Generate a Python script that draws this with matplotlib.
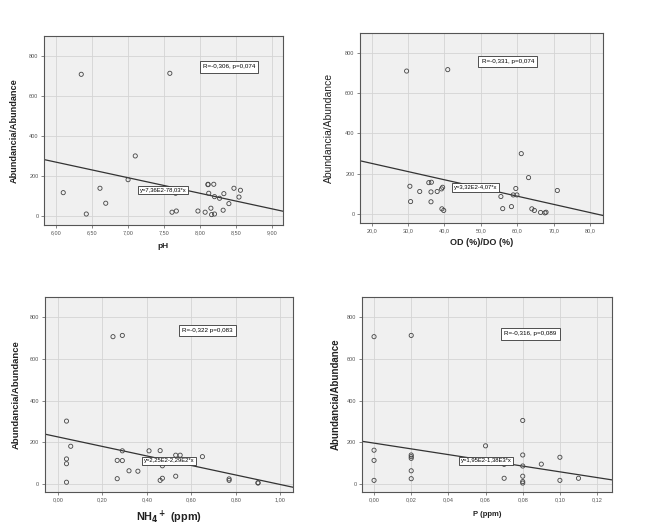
import matplotlib
matplotlib.use("Agg")
import matplotlib.pyplot as plt
import numpy as np

plt.rcParams['font.family'] = ['Liberation Sans', 'DejaVu Sans']
plt.rcParams['mathtext.default'] = 'bf'

# panel 1 - pH
ph_x = [6.10, 6.35, 6.42, 6.61, 6.69, 7.00, 7.10, 7.58, 7.66, 7.61, 7.67, 7.97, 8.07,
        8.11, 8.11, 8.12, 8.19, 8.15, 8.16, 8.20, 8.20, 8.27, 8.33, 8.32, 8.40, 8.47, 8.54, 8.56]
ph_y = [115, 708, 8, 137, 62, 180, 299, 713, 112, 17, 23, 23, 17,
        157, 155, 112, 157, 37, 5, 8, 95, 87, 110, 27, 60, 137, 93, 127]

# panel 2 - OD
od_x = [29.6, 40.9, 30.5, 30.7, 33.2, 35.7, 36.4, 36.3, 36.3, 38.0, 39.2, 39.5, 39.3, 39.8,
        55.5, 56.0, 58.4, 58.9, 59.6, 59.9, 61.1, 63.1, 64.0, 64.7, 66.4, 67.6, 67.9, 71.0]
od_y = [709, 716, 137, 61, 111, 155, 157, 109, 60, 111, 124, 132, 25, 17,
        86, 26, 36, 94, 126, 94, 299, 180, 25, 17, 7, 5, 8, 116]

# panel 3 - NH4
nh_x = [0.248, 0.29, 0.039, 0.058, 0.039, 0.039, 0.039, 0.29, 0.267, 0.29, 0.32, 0.36,
        0.267, 0.41, 0.46, 0.47, 0.46, 0.47, 0.53, 0.55, 0.53, 0.65, 0.77, 0.77, 0.90, 0.90, 0.47]
nh_y = [707, 713, 301, 180, 119, 96, 7, 158, 112, 111, 62, 60,
        24, 158, 159, 86, 16, 26, 137, 137, 36, 130, 23, 16, 5, 3, 112]

# panel 4 - P
p_x = [0.00, 0.02, 0.08, 0.00, 0.00, 0.00, 0.02, 0.02, 0.02, 0.02, 0.02, 0.06, 0.07, 0.07,
       0.08, 0.08, 0.08, 0.08, 0.08, 0.09, 0.10, 0.10, 0.11]
p_y = [707, 713, 304, 161, 112, 16, 138, 130, 122, 62, 24, 182, 93, 26,
       138, 85, 36, 10, 3, 94, 127, 16, 26]

# regression coefficients (intercept, slope) and stats text
fits = [(736, -78.03), (332, -4.07), (225, -229), (195, -1380)]
reg_text = ["y=7,36E2-78,03*x", "y=3,32E2-4,07*x", "y=2,25E2-2,29E2*x", "y=1,95E2-1,38E3*x"]
r_text = ["R=-0,306, p=0,074", "R=-0,331, p=0,074", "R=-0,322 p=0,083", "R=-0,316, p=0,089"]

xticks = [np.arange(6.0, 9.01, 0.5), np.arange(20, 80.1, 10), np.arange(0, 1.01, 0.2), np.arange(0, 0.121, 0.02)]
xfmt = ["{:.2f}", "{:.1f}", "{:.2f}", "{:.2f}"]
xlims = [(5.833, 9.15), (16.8, 83.5), (-0.058, 1.057), (-0.0065, 0.128)]
ylims = [(-47, 900), (-46, 896), (-40, 898), (-40, 898)]
xlabels = ["pH", "OD (%)/DO (%)", "NH$_4$$^+$ (ppm)", "P (ppm)"]
xlab_size = [6, 6.5, 7.8, 5.5]
ylab_size = [6.6, 7.5, 6.8, 7.0]
ylab_weight = ["bold", "normal", "bold", "bold"]
ylab_pos = [-0.105, -0.107, -0.097, -0.085]
xlab_pos = [-0.094, -0.079, -0.085, -0.096]
r_pos = [(8.40, 745), (57.4, 755), (0.672, 737), (0.0841, 720)]
reg_pos = [(7.49, 128), (48.5, 131), (0.50, 110), (0.0604, 110)]
boxes = [[0.0676, 0.5755, 0.367, 0.3566], [0.553, 0.579, 0.373, 0.358],
         [0.069, 0.0717, 0.381, 0.368], [0.556, 0.0717, 0.384, 0.368]]

xs = [ph_x, od_x, nh_x, p_x]
ys = [ph_y, od_y, nh_y, p_y]

fig = plt.figure(figsize=(6.51, 5.30), dpi=100)

for i in range(4):
    ax = fig.add_axes(boxes[i])
    ax.set_facecolor('#f0f0f0')
    ax.set_xlim(xlims[i])
    ax.set_ylim(ylims[i])
    ax.set_xticks(xticks[i])
    ax.set_xticklabels([xfmt[i].format(v).replace('.', ',') for v in xticks[i]])
    ax.set_yticks([0, 200, 400, 600, 800])
    ax.tick_params(labelsize=4, colors='#555555', length=2, width=0.5, pad=2)
    ax.grid(True, color='#d4d4d4', linewidth=0.6)
    ax.set_axisbelow(True)
    for s in ax.spines.values():
        s.set_color('#555555')
        s.set_linewidth(0.8)

    ax.scatter(xs[i], ys[i], s=9, facecolors='none', edgecolors='#444444', linewidths=0.6, zorder=3)

    a, b = fits[i]
    lx = np.array(xlims[i])
    ax.plot(lx, a + b * lx, color='#333333', linewidth=0.9, zorder=2)

    ax.text(r_pos[i][0], r_pos[i][1], r_text[i], fontsize=4.5, ha='center', va='center', zorder=5,
            bbox=dict(boxstyle='square,pad=0.5', facecolor='white', edgecolor='#333333', linewidth=0.6))
    ax.text(reg_pos[i][0], reg_pos[i][1], reg_text[i], fontsize=4.2, ha='center', va='center', zorder=5,
            bbox=dict(boxstyle='square,pad=0.3', facecolor='white', edgecolor='#333333', linewidth=0.6))

    ax.set_xlabel(xlabels[i], fontsize=xlab_size[i], fontweight='bold', color='#222222')
    ax.xaxis.set_label_coords(0.5, xlab_pos[i])
    ax.set_ylabel("Abundancia/Abundance", fontsize=ylab_size[i], fontweight=ylab_weight[i], color='#222222')
    ax.yaxis.set_label_coords(ylab_pos[i], 0.5)

fig.savefig("out.png", dpi=100)
